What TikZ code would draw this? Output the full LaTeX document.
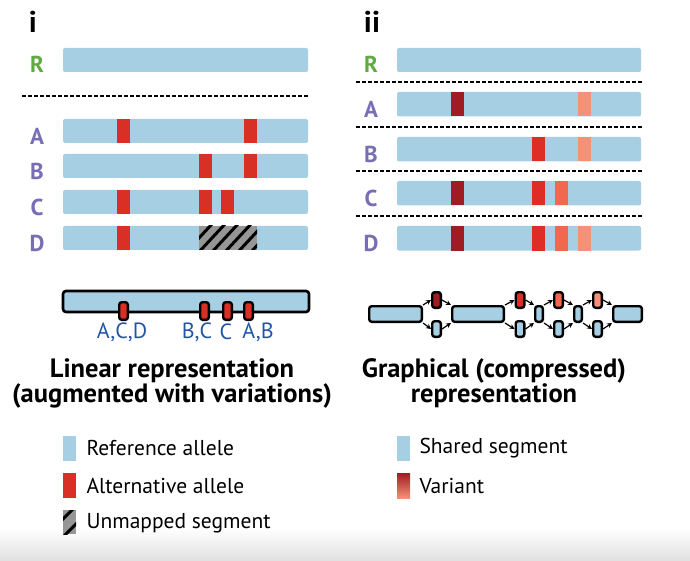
\documentclass[tikz,border=0pt]{standalone}
\usepackage{fontspec}
\setmainfont{PT Sans}
\usetikzlibrary{calc}
\usetikzlibrary{positioning}
\usetikzlibrary{arrows.meta}
\definecolor{refblue}{RGB}{166,207,228}
\definecolor{altred}{RGB}{217,48,38}
\definecolor{vdark}{RGB}{160,28,35}
\definecolor{vred}{RGB}{222,45,38}
\definecolor{vorange}{RGB}{240,104,78}
\definecolor{vsalmon}{RGB}{244,145,118}
\definecolor{lblgreen}{RGB}{95,170,65}
\definecolor{lblpurple}{RGB}{120,110,180}
\definecolor{posblue}{RGB}{35,85,165}
\definecolor{hatchgray}{RGB}{150,150,150}
\tikzset{
  seqbar/.style={fill=refblue, rounded corners=2},
  lbl/.style={font=\bfseries\fontsize{23}{23}\selectfont, text=lblpurple},
  panel/.style={font=\bfseries\fontsize{30}{30}\selectfont},
  sep/.style={line width=1.3, dash pattern=on 3.5pt off 2.5pt},
  ttl/.style={font=\bfseries\fontsize{26.5}{25}\selectfont, align=center},
  postxt/.style={font=\fontsize{22}{22}\selectfont, text=posblue},
  legtxt/.style={font=\fontsize{21.5}{21.5}\selectfont, anchor=west},
  gbox/.style={draw, line width=2.4, rounded corners=2.5, fill=refblue, inner sep=0pt, minimum height=15.6},
  garr/.style={-{Stealth[length=5pt, width=5pt]}, line width=1.2}
}
\begin{document}
\begin{tikzpicture}[x=1pt, y=-1pt]
  \useasboundingbox (0,0) rectangle (690,561);
  \shade[top color=white, bottom color=black!12] (0,528) rectangle (690,561);

  % panel i
  \node[panel] (pi) at (33,22) {i};
  \fill[seqbar] (63,48) rectangle (308,72);
  \node[lbl, text=lblgreen] (liR) at (37,64) {R};
  \draw[sep] (22,96) -- (308,96);
  \foreach \name/\y in {A/119,B/154,C/190,D/226} {
    \fill[seqbar] (63,\y) rectangle (308,\y+24);
    \node[lbl] (li\name) at (37,\y+17) {\name};
  }
  \foreach \x/\y in {117/119,244/119,199/154,244/154,117/190,199/190,221/190,117/226}
    \fill[altred] (\x,\y) rectangle (\x+12.5,\y+24);
  \begin{scope}
    \clip (199,226) rectangle (257,250);
    \fill[hatchgray] (199,226) rectangle (257,250);
    \foreach \k in {0,...,6}
      \draw[line width=3] (186+\k*13,252) -- (212+\k*13,224);
  \end{scope}

  % linear representation
  \draw[line width=2.6, fill=refblue, rounded corners=3] (63,291) rectangle (309,312);
  \foreach \x [count=\i] in {123.5,204.5,227.5,248.5}
    \node[gbox, fill=altred, minimum width=8.6, minimum height=17.6] (p\i) at (\x,311) {};
  \node[postxt] (tACD) at (122,332) {A,C,D};
  \node[postxt] (tBC) at (197,332) {B,C};
  \node[postxt] (tC) at (226,332) {C};
  \node[postxt] (tAB) at (258,332) {A,B};
  \node[ttl] (ttlL) at (172,383) {Linear representation\\(augmented with variations)};

  % panel ii
  \node[panel] (pii) at (372,22) {ii};
  \fill[seqbar] (397,48) rectangle (641,72);
  \node[lbl, text=lblgreen] (liiR) at (371,64) {R};
  \foreach \y in {82,127,171,216}
    \draw[sep] (356,\y) -- (642,\y);
  \foreach \name/\y in {A/92,B/137,C/181,D/226} {
    \fill[seqbar] (397,\y) rectangle (641,\y+24.5);
    \node[lbl] (lii\name) at (371,\y+17) {\name};
  }
  \foreach \x/\y/\c in {451/92/vdark,578/92/vsalmon,532/137/vred,578/137/vsalmon,
      451/181/vdark,532/181/vred,555/181/vorange,
      451/226/vdark,532/226/vred,555/226/vorange,578/226/vsalmon}
    \fill[\c] (\x,\y) rectangle (\x+12.5,\y+24.5);

  % graph representation
  \node[gbox, minimum width=52.6] (s1) at (395.5,314) {};
  \node[gbox, minimum width=51.6] (s2) at (478,314) {};
  \node[gbox, minimum width=7.6] (s3) at (539,314) {};
  \node[gbox, minimum width=7.6] (s4) at (578,314) {};
  \node[gbox, minimum width=28.6] (s5) at (627.5,314) {};
  \foreach \x/\c [count=\i] in {436.5/vdark,520/vred,558.5/vorange,597.5/vsalmon} {
    \node[gbox, fill=\c, minimum width=8.6] (v\i t) at (\x,300) {};
    \node[gbox, minimum width=8.6] (v\i b) at (\x,329) {};
  }
  \foreach \a/\i/\b in {s1/1/s2,s2/2/s3,s3/3/s4,s4/4/s5} {
    \draw[garr] (\a.north east) -- (v\i t.west);
    \draw[garr] (\a.south east) -- (v\i b.west);
    \draw[garr] (v\i t.east) -- (\b.north west);
    \draw[garr] (v\i b.east) -- (\b.south west);
  }
  \node[ttl] (ttlR) at (494,383) {Graphical (compressed)\\representation};

  % legends
  \fill[refblue] (63,436) rectangle (76,461);
  \node[legtxt] (lgRef) at (83,448) {Reference allele};
  \fill[altred] (63,473) rectangle (76,498);
  \node[legtxt] (lgAlt) at (83,486) {Alternative allele};
  \begin{scope}
    \clip (63,510) rectangle (76,534);
    \fill[hatchgray] (63,510) rectangle (76,534);
    \draw[line width=3] (58,524) -- (78,504) (60,540) -- (80,520);
  \end{scope}
  \node[legtxt] (lgUnm) at (83,523) {Unmapped segment};
  \fill[refblue] (397,436) rectangle (410,461);
  \node[legtxt] (lgShr) at (416,448) {Shared segment};
  \shade[top color=vdark, bottom color=vsalmon] (397,473) rectangle (410,498);
  \node[legtxt] (lgVar) at (416,486) {Variant};
\end{tikzpicture}
\end{document}
